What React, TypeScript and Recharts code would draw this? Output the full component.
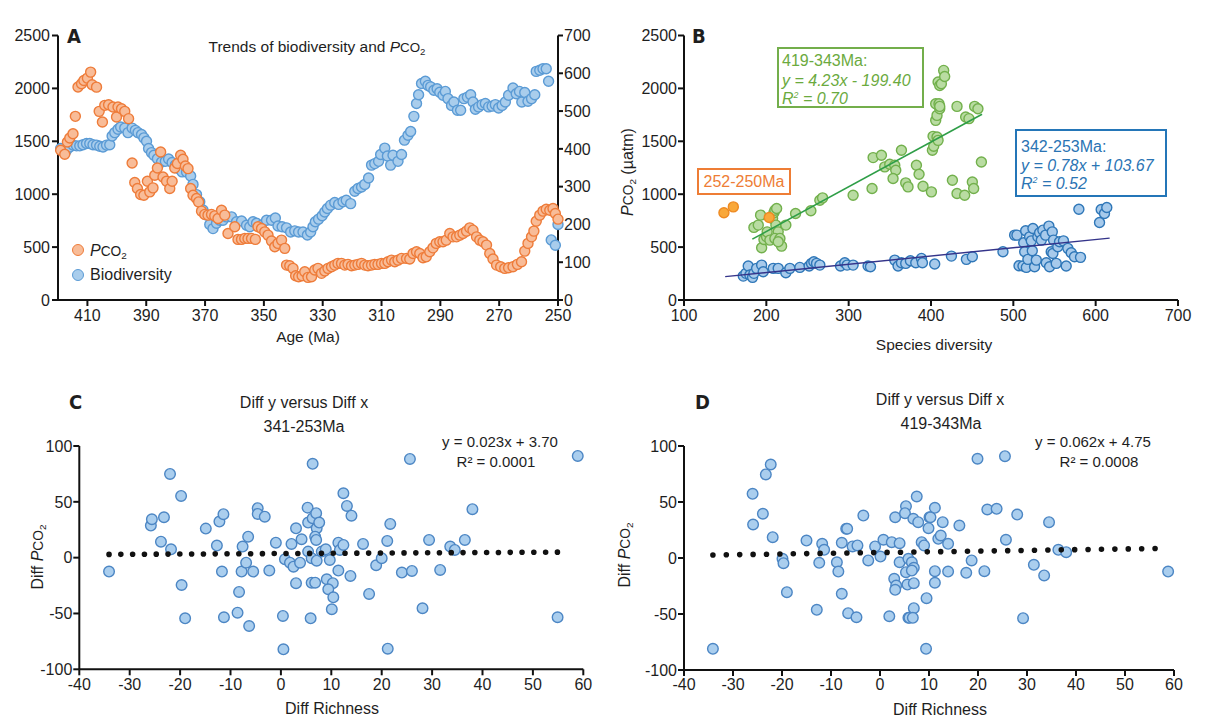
import React from 'react';
import { ScatterChart, Scatter, XAxis, YAxis } from 'recharts';

const FONT = '"Liberation Sans", Arial, Helvetica, sans-serif';
const INK = '#1e1e1e';

// ---- Panel A: age (Ma) vs pCO2 / biodiversity ----
const aAgeTicks = [410, 390, 370, 350, 330, 310, 290, 270, 250];
const aPco2Ticks = [0, 500, 1000, 1500, 2000, 2500];
const aBioTicks = [0, 100, 200, 300, 400, 500, 600, 700];

const aPco2: [number, number][] = [
  [419.1, 1415], [417.7, 1377], [416.8, 1494], [416.0, 1531], [414.9, 1572], [414.1, 1736],
  [413.2, 2013], [412.0, 2044], [411.2, 2075], [410.0, 2097], [408.9, 2154], [408.4, 2035],
  [406.9, 2012], [406.0, 1783], [404.9, 1682], [404.1, 1840], [402.8, 1846], [401.3, 1824],
  [400.1, 1729], [399.6, 1824], [398.4, 1808], [397.3, 1783], [396.0, 1714], [394.8, 1295],
  [393.9, 1110], [393.0, 1054], [391.9, 997], [390.8, 990], [389.6, 1123], [388.8, 1022],
  [387.7, 1060], [387.1, 1179], [386.2, 1248], [385.1, 1399], [384.3, 1163], [383.1, 1123],
  [382.0, 1054], [381.2, 1123], [380.3, 1248], [379.4, 1290], [378.3, 1368], [377.5, 1330],
  [376.7, 1267], [375.8, 1242], [374.9, 1054], [374.1, 990], [372.9, 959], [372.2, 927],
  [371.2, 840], [370.1, 809], [369.0, 802], [367.8, 809], [366.7, 795], [365.6, 771],
  [364.4, 849], [363.3, 802], [362.2, 629], [359.9, 692], [358.8, 573], [357.6, 573],
  [356.5, 582], [355.4, 582], [354.2, 582], [352.9, 573], [352.0, 692], [350.8, 676],
  [349.7, 644], [348.6, 613], [347.4, 557], [346.3, 503], [345.2, 535], [344.0, 566],
  [342.9, 488], [342.3, 330], [341.2, 324], [340.1, 299], [339.2, 229], [338.2, 220],
  [337.0, 229], [336.1, 267], [335.0, 214], [333.8, 220], [332.7, 283], [331.6, 299],
  [330.4, 252], [329.3, 274], [328.2, 299], [327.0, 314], [325.9, 330], [324.8, 346],
  [323.6, 346], [322.5, 330], [321.4, 337], [320.2, 324], [319.1, 330], [318.0, 337],
  [316.8, 346], [315.7, 330], [314.6, 324], [313.4, 330], [312.3, 337], [311.2, 337],
  [310.0, 346], [308.9, 346], [307.8, 361], [306.6, 377], [305.5, 361], [304.4, 377],
  [303.2, 393], [301.5, 393], [300.4, 387], [299.3, 440], [298.1, 456], [297.0, 440],
  [295.9, 399], [294.8, 408], [293.6, 456], [292.5, 493], [291.4, 535], [290.2, 550],
  [289.1, 550], [288.0, 566], [286.8, 629], [285.7, 597], [284.5, 597], [283.4, 613],
  [282.3, 629], [281.1, 651], [280.0, 682], [278.9, 660], [277.7, 597], [276.6, 566],
  [275.5, 550], [274.3, 519], [273.2, 440], [272.1, 387], [270.9, 330], [269.5, 314],
  [268.1, 299], [266.8, 305], [265.3, 314], [263.8, 337], [262.4, 361], [261.3, 462],
  [260.2, 535], [259.0, 597], [258.2, 651], [257.4, 745], [256.2, 802], [255.1, 840],
  [254.0, 858], [252.8, 849], [251.7, 865], [250.9, 818], [250.0, 764],
];

const aBiodiversity: [number, number][] = [
  [419.1, 401], [417.1, 396], [416.0, 405], [414.9, 410], [413.7, 408], [412.6, 408],
  [411.5, 411], [410.3, 414], [409.2, 414], [408.1, 411], [406.9, 410], [405.8, 407],
  [404.7, 405], [403.5, 410], [402.4, 411], [401.6, 434], [400.7, 443], [399.6, 452],
  [398.7, 458], [397.3, 455], [396.2, 443], [394.8, 455], [393.7, 449], [392.8, 443],
  [391.6, 438], [390.8, 429], [389.9, 420], [389.2, 401], [388.2, 390], [387.4, 383],
  [386.2, 374], [384.8, 365], [383.5, 367], [382.4, 373], [381.2, 364], [380.1, 357],
  [379.0, 348], [377.8, 339], [376.3, 339], [374.9, 328], [374.1, 306], [372.9, 279],
  [371.8, 260], [370.7, 238], [369.5, 225], [368.4, 200], [367.3, 189], [366.1, 203],
  [365.0, 211], [363.9, 211], [362.7, 220], [361.0, 220], [359.3, 207], [357.6, 209],
  [355.9, 198], [354.8, 194], [353.7, 207], [352.5, 203], [350.8, 198], [349.1, 211],
  [347.4, 211], [346.1, 217], [345.2, 196], [343.8, 194], [342.3, 191], [340.9, 180],
  [339.5, 183], [338.2, 180], [336.7, 180], [335.2, 172], [334.1, 180], [333.3, 194],
  [332.5, 207], [331.4, 214], [330.2, 223], [329.3, 233], [328.4, 242], [327.3, 251],
  [325.9, 258], [324.6, 253], [323.1, 260], [322.0, 264], [320.5, 255], [319.1, 288],
  [318.0, 295], [316.8, 299], [315.7, 306], [314.4, 323], [313.4, 357], [312.3, 361],
  [311.0, 367], [310.3, 385], [308.9, 402], [308.0, 381], [306.9, 357], [306.1, 383],
  [304.4, 367], [303.2, 385], [302.2, 423], [301.0, 436], [300.1, 446], [299.0, 486],
  [298.1, 520], [297.4, 543], [296.4, 573], [295.1, 579], [294.2, 568], [293.3, 564],
  [292.2, 555], [291.1, 559], [290.2, 550], [289.1, 542], [288.3, 552], [287.4, 533],
  [286.2, 515], [285.4, 524], [284.2, 502], [283.1, 502], [282.0, 533], [280.8, 537],
  [279.7, 543], [278.9, 524], [278.1, 505], [277.0, 511], [275.8, 517], [274.7, 520],
  [273.6, 511], [272.4, 513], [271.3, 517], [270.2, 508], [269.0, 515], [267.9, 524],
  [266.8, 542], [265.3, 561], [264.2, 546], [263.1, 552], [262.3, 524], [261.3, 549],
  [260.2, 526], [259.0, 533], [257.9, 543], [257.4, 605], [256.2, 608], [255.1, 612],
  [254.0, 612], [253.2, 579], [252.3, 159], [250.9, 145], [250.0, 200],
];

// ---- Panel B: species diversity vs pCO2 ----
const bDiversityTicks = [100, 200, 300, 400, 500, 600, 700];
const bPco2Ticks = [0, 500, 1000, 1500, 2000, 2500];

const bDevonian: [number, number][] = [
  [184.9, 686], [190.2, 708], [193.0, 802], [194.3, 494], [197.1, 572], [200.3, 597],
  [201.0, 644], [204.3, 566], [207.6, 771], [209.2, 824], [210.4, 849], [212.5, 865],
  [211.6, 708], [214.4, 644], [210.4, 582], [216.5, 582], [218.5, 509], [223.7, 708],
  [214.4, 550], [235.5, 818], [254.1, 843], [265.0, 943], [268.3, 965], [305.4, 990],
  [328.4, 1054], [329.7, 1346], [339.8, 1368], [343.8, 1258], [349.9, 1283], [356.0, 1274],
  [357.2, 1226], [353.9, 1148], [364.1, 1415], [369.3, 1107], [372.1, 1069], [382.3, 1274],
  [385.5, 1189], [390.3, 1075], [400.5, 1022], [401.7, 1415], [403.3, 1453], [402.5, 1547],
  [407.3, 1541], [408.6, 1509], [405.7, 1698], [407.3, 1745], [410.6, 1808], [405.7, 1855],
  [409.7, 1855], [410.6, 1830], [408.6, 2060], [410.6, 2028], [412.6, 2044], [415.4, 2170],
  [416.6, 2113], [431.6, 1830], [426.0, 1132], [431.6, 1006], [440.9, 990], [442.1, 1729],
  [446.1, 1714], [453.0, 1830], [457.0, 1808], [450.2, 1116], [451.8, 1054], [461.2, 1305],
];

const bCarboniferous: [number, number][] = [
  [172.0, 226], [175.2, 252], [178.0, 321], [180.0, 236], [183.3, 214], [184.9, 252],
  [188.2, 299], [194.3, 330], [196.2, 267], [208.4, 299], [214.4, 299], [223.7, 258],
  [228.6, 299], [240.7, 308], [252.0, 321], [254.9, 346], [257.7, 361], [261.0, 346],
  [265.0, 330], [290.1, 321], [295.3, 352], [298.1, 330], [305.4, 330], [323.6, 321],
  [326.5, 314], [356.0, 377], [360.0, 321], [364.1, 352], [369.3, 346], [375.0, 371],
  [381.5, 352], [388.4, 393], [389.6, 352], [404.5, 340], [424.8, 415], [443.0, 384],
  [450.2, 409], [487.4, 456], [501.6, 613], [504.4, 613], [506.9, 324], [511.7, 321],
  [512.6, 541], [513.8, 456], [515.0, 654], [515.8, 308], [517.7, 384], [519.8, 597],
  [521.8, 559], [523.0, 465], [523.8, 676], [525.8, 314], [527.9, 377], [529.8, 597],
  [531.9, 635], [534.0, 566], [535.9, 660], [539.2, 613], [540.0, 352], [543.2, 698],
  [544.0, 314], [546.0, 456], [547.3, 644], [548.8, 566], [548.0, 440], [552.1, 346],
  [554.0, 503], [556.1, 550], [560.9, 559], [564.2, 321], [566.2, 488], [570.3, 446],
  [574.3, 409], [581.6, 403], [579.6, 858], [604.7, 733], [606.7, 855], [610.7, 818],
  [613.5, 874],
];

const bPermianEnd: [number, number][] = [[148.5, 824], [159.9, 880], [203.5, 780]];

const bDevonianFit: [number, number][] = [[183, 575], [462, 1755]];
const bCarboniferousFit: [number, number][] = [[150, 221], [617, 585]];

// ---- Panels C and D: first differences ----
const diffRichnessTicks = [-40, -30, -20, -10, 0, 10, 20, 30, 40, 50, 60];
const diffPco2Ticks = [-100, -50, 0, 50, 100];

const cDiffs: [number, number][] = [
  [-34.1, -12.5], [-25.8, 28.7], [-25.6, 34.4], [-23.2, 36.2], [-23.8, 14.3], [-22.0, 75],
  [-21.8, 7.5], [-19.8, 55.3], [-19.7, -24.5], [-19.0, -54.3], [-14.9, 26], [-12.7, 10.8],
  [-12.2, 32.3], [-11.4, 38.9], [-11.7, -12.5], [-11.3, -53.4], [-8.6, -49.3], [-8.3, -30.7],
  [-7.8, -12.5], [-7.6, 9.9], [-6.9, -4.5], [-6.5, 18.8], [-6.3, -61.2], [-5.5, -12.5],
  [-4.6, 44.3], [-4.6, 39.2], [-3.2, 36.7], [-2.3, -11.6], [-1.0, 13.4], [0.4, -52.2],
  [0.5, -82.1], [0.8, -1.4], [2.1, 12.3], [1.8, -4.5], [2.5, -8.1], [3.0, 26.3],
  [3.0, -22.9], [3.8, -4.5], [4.1, 16.5], [5.3, 44.8], [5.4, 31.4], [5.4, 5.4],
  [6.1, -0.5], [6.3, 84], [6.1, -22.4], [6.8, -22.4], [6.3, 35.3], [7.0, 39.8],
  [7.1, 26.3], [7.6, 31.4], [6.8, 18.8], [7.0, 15.9], [7.1, -2.7], [8.1, 5.4],
  [8.9, 7.5], [9.7, -2.1], [9.1, -19.4], [10.3, -22.9], [9.4, -28.3], [10.4, -35.5],
  [10.1, -46.2], [5.9, -54.3], [11.4, 13.4], [11.7, 6.9], [12.4, 11.4], [11.4, -11.6],
  [13.8, -16.4], [12.4, 57.7], [13.1, 46.3], [14.0, 37.6], [16.3, 12.3], [17.5, -32.5],
  [18.9, -6.8], [20.0, -0.5], [21.1, 15], [21.7, 30.2], [21.2, -81.5], [24.0, -13.4],
  [26.0, -11.9], [25.6, 88.4], [28.1, -45.3], [29.4, 15.9], [31.6, -11], [33.6, 9.9],
  [34.5, 6.9], [36.5, 15.9], [38.0, 43.4], [58.9, 91.1], [54.9, -53.4],
];
const cFit: [number, number][] = [[-34.1, 2.9], [57.2, 5.0]];

const dDiffs: [number, number][] = [
  [-34.1, -81.1], [-26.0, 57.3], [-25.9, 29.9], [-23.9, 39.5], [-23.3, 74.6], [-22.3, 83.5],
  [-21.9, 18.6], [-19.9, -0.7], [-19.7, -4.6], [-19.0, -30.5], [-15.0, 15.6], [-12.9, -46.3],
  [-12.4, -4.3], [-11.8, 12.7], [-11.4, 7.3], [-8.8, -3.8], [-8.5, -12.1], [-7.8, -32],
  [-7.8, 13.6], [-6.9, 26.1], [-6.7, 26.1], [-6.5, -49.3], [-5.6, 10.3], [-4.8, -52.9],
  [-4.6, 11.2], [-3.4, 37.9], [-2.4, -2.2], [-1.0, 10.3], [0.1, 1.3], [0.7, 16.3],
  [1.9, -52], [2.4, 14.1], [3.1, 36.4], [2.9, -18.6], [3.3, -24.6], [3.1, -28.4],
  [4.0, -3.8], [4.0, 13.2], [5.3, 46.3], [5.1, 40], [5.3, -12.7], [5.6, -23.7],
  [5.8, -53.4], [7.5, 54.9], [6.8, 35], [7.8, 32], [10.1, 36.4], [10.3, 36.4],
  [9.9, 26.6], [11.2, 44.8], [12.8, 32], [16.2, 29], [8.5, 14.1], [9.0, 11.2],
  [11.9, 17.1], [12.4, 20.1], [13.9, 12.7], [5.8, -0.7], [6.5, -3.8], [6.9, -8.8],
  [6.5, -11.2], [6.9, -22.5], [11.2, -11.8], [11.2, -22.1], [13.9, -12.1], [17.6, -13.2],
  [18.7, -2.2], [21.3, -11.8], [9.5, -35.9], [6.9, -44.8], [6.0, -53.4], [6.7, -53.4],
  [9.4, -81.1], [19.9, 88.6], [25.5, 90.9], [21.9, 43.3], [23.8, 43.9], [28.0, 38.8],
  [25.7, 16.3], [31.4, -6.1], [33.5, -15.6], [29.2, -53.7], [34.5, 32], [36.4, 7.3],
  [38.0, 5.2], [58.8, -12.1],
];
const dFit: [number, number][] = [[-34.1, 2.7], [56.3, 8.5]];

const toXY = (rows: [number, number][]) => rows.map(([x, y]) => ({ x, y }));

const dot = (fill: string, stroke: string, r = 5) => (p: any) => (
  <circle cx={p.cx} cy={p.cy} r={r} fill={fill} stroke={stroke} strokeWidth={1.4} />
);
const noDot = () => <g />;

const axisLine = { stroke: '#111', strokeWidth: 2 };
const tick = { fill: INK, fontSize: 16, fontFamily: FONT };

function T({ x, y, children, size = 16, anchor = 'middle', color = INK, style = {} }: any) {
  const tx = anchor === 'middle' ? '-50%' : anchor === 'end' ? '-100%' : '0';
  return (
    <div
      style={{
        position: 'absolute', left: x, top: y, transform: `translate(${tx},-50%)`,
        fontSize: size, fontFamily: FONT, color, whiteSpace: 'nowrap', lineHeight: 1, ...style,
      }}
    >
      {children}
    </div>
  );
}

function VT({ x, y, children, size = 16 }: any) {
  return (
    <div
      style={{
        position: 'absolute', left: x, top: y, transform: 'translate(-50%,-50%) rotate(-90deg)',
        fontSize: size, fontFamily: FONT, color: INK, whiteSpace: 'nowrap', lineHeight: 1,
      }}
    >
      {children}
    </div>
  );
}

const Sub = ({ c }: any) => (
  <span style={{ fontSize: '0.62em', position: 'relative', top: '0.3em' }}>{c}</span>
);
const Pco2 = () => (
  <span><i>P</i><span style={{ fontSize: '0.86em' }}>CO</span><Sub c="2" /></span>
);

function PanelLabel({ x, y, c }: any) {
  return (
    <T x={x} y={y} size={20} anchor="start"
      style={{ fontFamily: '"DejaVu Sans Condensed", "DejaVu Sans", sans-serif', fontWeight: 700 }}>
      {c}
    </T>
  );
}

function Box({ left, top, width, height, color }: any) {
  return (
    <div style={{
      position: 'absolute', left, top, width, height, boxSizing: 'border-box',
      border: `2px solid ${color}`,
    }} />
  );
}

export default function App() {
  const orange = dot('#F8BC98', '#EE7C3A');
  const blueA = dot('#A9CDEC', '#5B9BD5');
  const green = dot('#B9DCA2', '#72B04C');
  const blueB = dot('#A7CAEB', '#2F77B8');
  const orangeB = dot('#F9A83A', '#EE8A22');
  const blueCD = dot('#AACEEE', '#4C86C4', 5.3);

  return (
    <div style={{ position: 'absolute', left: 0, top: 0, width: 1208, height: 724, background: '#fff' }}>
      {/* A */}
      <div style={{ position: 'absolute', left: 0, top: 0 }}>
        <ScatterChart width={610} height={360} margin={{ top: 35.5, right: 0, bottom: 0, left: 0 }}>
          <XAxis type="number" dataKey="x" domain={[250, 420]} reversed ticks={aAgeTicks}
            height={60} axisLine={axisLine} tickLine={axisLine} tick={tick} tickSize={6} tickMargin={4} />
          <YAxis yAxisId="l" type="number" dataKey="y" domain={[0, 2500]} ticks={aPco2Ticks}
            width={58} axisLine={axisLine} tickLine={axisLine} tick={tick} tickSize={6} tickMargin={2} />
          <YAxis yAxisId="r" orientation="right" type="number" dataKey="y" domain={[0, 700]}
            ticks={aBioTicks} width={52} axisLine={axisLine} tickLine={axisLine} tick={tick}
            tickSize={5} tickMargin={1} />
          <Scatter yAxisId="r" data={toXY(aBiodiversity)} shape={blueA} isAnimationActive={false} />
          <Scatter yAxisId="l" data={toXY(aPco2)} shape={orange} isAnimationActive={false} />
        </ScatterChart>
      </div>
      <PanelLabel x={67} y={36} c="A" />
      <T x={317} y={47} size={15.5}>Trends of biodiversity and <Pco2 /></T>
      <T x={308} y={337} size={15.5}>Age (Ma)</T>
      <div style={{ position: 'absolute', left: 72, top: 244, width: 12, height: 12, borderRadius: 6,
        background: '#F8BC98', border: '1.5px solid #EE7C3A', boxSizing: 'border-box' }} />
      <div style={{ position: 'absolute', left: 72, top: 269, width: 12, height: 12, borderRadius: 6,
        background: '#A9CDEC', border: '1.5px solid #5B9BD5', boxSizing: 'border-box' }} />
      <T x={90} y={251} anchor="start"><Pco2 /></T>
      <T x={90} y={275} anchor="start">Biodiversity</T>

      {/* B */}
      <div style={{ position: 'absolute', left: 600, top: 0 }}>
        <ScatterChart width={608} height={360} margin={{ top: 35.5, right: 30, bottom: 0, left: 0 }}>
          <XAxis type="number" dataKey="x" domain={[100, 700]} ticks={bDiversityTicks}
            height={60} axisLine={axisLine} tickLine={axisLine} tick={tick} tickSize={6} tickMargin={4} />
          <YAxis type="number" dataKey="y" domain={[0, 2500]} ticks={bPco2Ticks}
            width={84} axisLine={axisLine} tickLine={axisLine} tick={tick} tickSize={6} tickMargin={1} />
          <Scatter data={toXY(bCarboniferous)} shape={blueB} isAnimationActive={false} />
          <Scatter data={toXY(bDevonian)} shape={green} isAnimationActive={false} />
          <Scatter data={toXY(bPermianEnd)} shape={orangeB} isAnimationActive={false} />
          <Scatter data={toXY(bDevonianFit)} shape={noDot} line={{ stroke: '#2E9E47', strokeWidth: 1.6 }}
            isAnimationActive={false} />
          <Scatter data={toXY(bCarboniferousFit)} shape={noDot} line={{ stroke: '#34348A', strokeWidth: 1.4 }}
            isAnimationActive={false} />
        </ScatterChart>
      </div>
      <PanelLabel x={692} y={36} c="B" />
      <VT x={628} y={172} size={16}><Pco2 /> (µatm)</VT>
      <T x={934} y={345} size={15.5}>Species diversity</T>

      <Box left={777} top={47} width={147} height={61} color="#73AE4B" />
      <T x={782} y={61} anchor="start" color="#6BAA3E">419-343Ma:</T>
      <T x={782} y={81} anchor="start" color="#6BAA3E" style={{ fontStyle: 'italic' }}>y = 4.23x - 199.40</T>
      <T x={782} y={99} anchor="start" color="#6BAA3E" style={{ fontStyle: 'italic' }}>
        R<sup style={{ fontSize: '0.55em' }}>2</sup> = 0.70
      </T>

      <Box left={697} top={168} width={94} height={27} color="#EE7D35" />
      <T x={744} y={182} color="#EE7D35">252-250Ma</T>

      <Box left={1015} top={129} width={152} height={68} color="#2476B8" />
      <T x={1021} y={147} anchor="start" color="#2A74B4">342-253Ma:</T>
      <T x={1021} y={166} anchor="start" color="#2A74B4" style={{ fontStyle: 'italic' }}>y = 0.78x + 103.67</T>
      <T x={1021} y={184} anchor="start" color="#2A74B4" style={{ fontStyle: 'italic' }}>
        R<sup style={{ fontSize: '0.55em' }}>2</sup> = 0.52
      </T>

      {/* C */}
      <div style={{ position: 'absolute', left: 0, top: 360 }}>
        <ScatterChart width={600} height={364} margin={{ top: 86, right: 16.7, bottom: 0, left: 0 }}>
          <XAxis type="number" dataKey="x" domain={[-40, 60]} ticks={diffRichnessTicks}
            height={54.7} axisLine={axisLine} tickLine={axisLine} tick={tick} tickSize={6} tickMargin={3} />
          <YAxis type="number" dataKey="y" domain={[-100, 100]} ticks={diffPco2Ticks}
            width={79.3} axisLine={axisLine} tickLine={axisLine} tick={tick} tickSize={6} tickMargin={1} />
          <Scatter data={toXY(cDiffs)} shape={blueCD} isAnimationActive={false} />
          <Scatter data={toXY(cFit)} shape={noDot}
            line={{ stroke: '#111', strokeWidth: 5.6, strokeDasharray: '0 11.8', strokeLinecap: 'round' }}
            isAnimationActive={false} />
        </ScatterChart>
      </div>
      <PanelLabel x={69} y={402} c="C" />
      <T x={304} y={403}>Diff y versus Diff x</T>
      <T x={304} y={427}>341-253Ma</T>
      <T x={500} y={441} size={15}>y = 0.023x + 3.70</T>
      <T x={496} y={461} size={15}>R² = 0.0001</T>
      <VT x={38} y={557}>Diff <Pco2 /></VT>
      <T x={332} y={709}>Diff Richness</T>

      {/* D */}
      <div style={{ position: 'absolute', left: 600, top: 360 }}>
        <ScatterChart width={608} height={364} margin={{ top: 86, right: 34, bottom: 0, left: 0 }}>
          <XAxis type="number" dataKey="x" domain={[-40, 60]} ticks={diffRichnessTicks}
            height={54} axisLine={axisLine} tickLine={axisLine} tick={tick} tickSize={6} tickMargin={3} />
          <YAxis type="number" dataKey="y" domain={[-100, 100]} ticks={diffPco2Ticks}
            width={84} axisLine={axisLine} tickLine={axisLine} tick={tick} tickSize={6} tickMargin={1} />
          <Scatter data={toXY(dDiffs)} shape={blueCD} isAnimationActive={false} />
          <Scatter data={toXY(dFit)} shape={noDot}
            line={{ stroke: '#111', strokeWidth: 5.6, strokeDasharray: '0 13.4', strokeLinecap: 'round' }}
            isAnimationActive={false} />
        </ScatterChart>
      </div>
      <PanelLabel x={695} y={402} c="D" />
      <T x={940} y={400}>Diff y versus Diff x</T>
      <T x={941} y={424}>419-343Ma</T>
      <T x={1093} y={441} size={15}>y = 0.062x + 4.75</T>
      <T x={1099} y={461} size={15}>R² = 0.0008</T>
      <VT x={625} y={555}>Diff <Pco2 /></VT>
      <T x={940} y={710}>Diff Richness</T>
    </div>
  );
}
